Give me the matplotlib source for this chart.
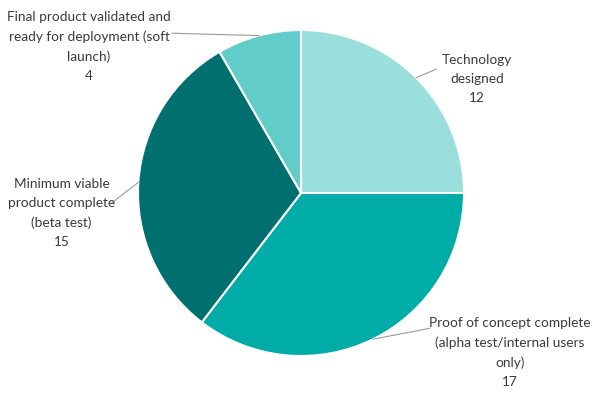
import numpy as np
import matplotlib.pyplot as plt

# --- Data ---
stages = [
    "Technology\ndesigned",
    "Proof of concept complete\n(alpha test/internal users\nonly)",
    "Minimum viable\nproduct complete\n(beta test)",
    "Final product validated and\nready for deployment (soft\nlaunch)",
]
counts = [12, 17, 15, 4]
colors = ["#9adfdc", "#00aca7", "#006f6f", "#62cdc8"]

# label block centres (data units, pie radius = 1)
label_pos = [(1.08, 0.70), (1.28, -0.98), (-1.47, -0.12), (-1.30, 0.90)]
# where each leader line leaves the text block
line_end = [(0.83, 0.76), (0.79, -0.83), (-1.16, -0.06), (-0.79, 0.98)]

fig = plt.figure(figsize=(5.93, 3.93), dpi=100)
cx, cy, r = 301, 193, 163
ax = fig.add_axes([(cx - r) / 593, (393 - cy - r) / 393, 2 * r / 593, 2 * r / 393])

wedges, _ = ax.pie(counts, colors=colors, startangle=90, counterclock=False,
                   wedgeprops=dict(edgecolor="white", linewidth=1.5))
ax.set_xlim(-1, 1)
ax.set_ylim(-1, 1)
ax.set_aspect("equal")
ax.axis("off")

for w, name, n, pos, end in zip(wedges, stages, counts, label_pos, line_end):
    ang = np.deg2rad((w.theta1 + w.theta2) / 2)
    edge = (np.cos(ang), np.sin(ang))
    ax.plot([edge[0], end[0]], [edge[1], end[1]], color="#9a9a9a", lw=0.8,
            clip_on=False, zorder=3)
    ax.text(pos[0], pos[1], f"{name}\n{n}", ha="center", va="center",
            fontsize=9.8, color="#3a3a3a", family="Lato", linespacing=1.7,
            zorder=4)

fig.savefig("out.png", dpi=100)
